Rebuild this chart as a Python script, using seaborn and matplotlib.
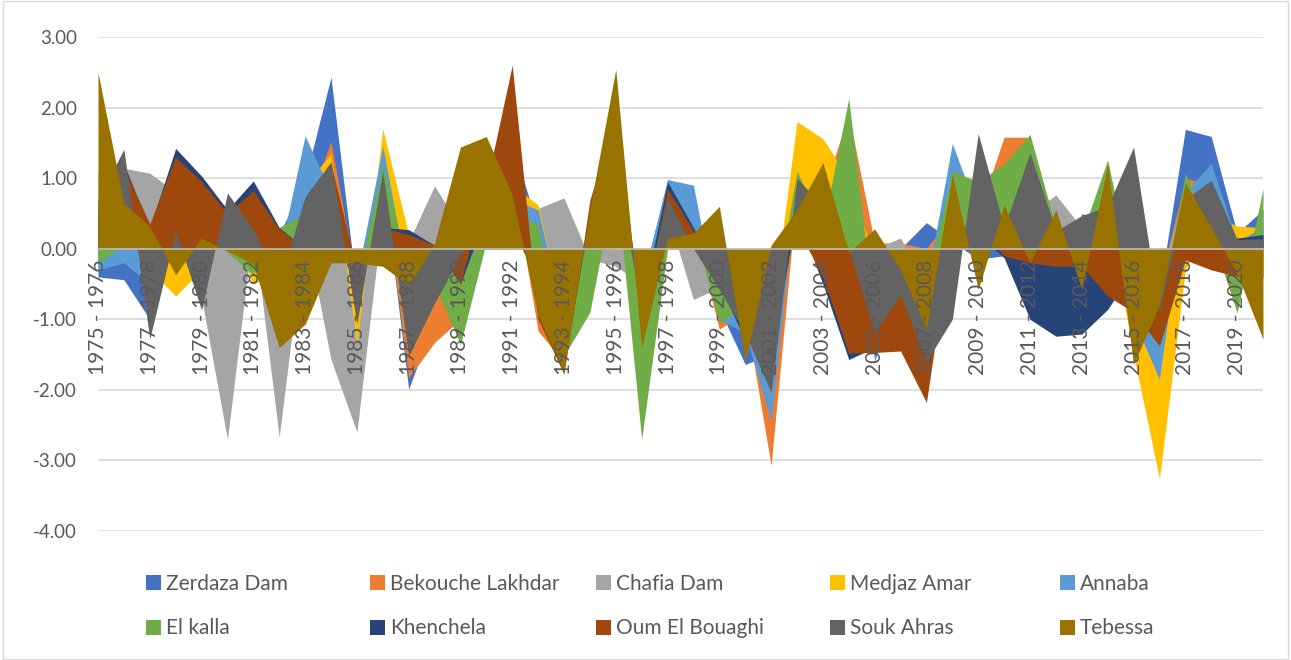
import matplotlib
matplotlib.use("Agg")
import matplotlib.pyplot as plt
from matplotlib.patches import Patch, Rectangle
import seaborn as sns
import numpy as np
import pandas as pd

# seasons on the category axis
seasons = [f"{y} - {y + 1}" for y in range(1975, 2021)]

zerdaza_dam = [-0.40, -0.44, -1.00, 0.80, 0.80, 0.30, 0.50, 0.20, 0.98, 2.43,
               -0.60, 1.00, -1.99, -1.00, -0.50, 0.50, 1.50, 0.30, -1.50, 0.30,
               1.00, -0.50, 0.97, 0.50, -0.85, -1.64, -1.50, 0.50, -0.50, -1.00,
               -0.50, 0.00, 0.37, 0.10, -0.15, -0.10, -0.50, -0.80, 0.50, 0.30,
               -0.50, -0.60, 1.69, 1.59, 0.22, 0.55]
bekouche_lakhdar = [-0.10, 0.50, -0.30, 0.50, 0.50, 0.30, 0.30, 0.20, 0.50, 1.52,
                    -0.50, 1.00, -1.83, -1.33, -1.00, 0.50, 1.00, -1.17, -1.60, 0.30,
                    1.00, -0.50, 0.50, 0.30, -1.14, -0.90, -3.07, 0.80, 0.80, 1.90,
                    0.08, 0.08, 0.00, 0.50, 0.50, 1.58, 1.58, 0.30, 0.30, 0.50,
                    -0.50, -0.50, 1.00, 0.90, 0.15, 0.30]
chafia_dam = [1.10, 1.14, 1.07, 0.80, -0.70, -2.70, 0.30, -2.67, 0.30, -1.57,
              -2.60, 0.50, 0.10, 0.89, 0.30, 0.20, 0.30, 0.57, 0.72, -0.15,
              -0.25, -0.50, 0.50, -0.72, -0.55, -0.50, -1.00, 0.50, 0.50, 0.50,
              0.00, 0.15, -0.50, 0.50, 0.50, 0.50, 0.50, 0.76, 0.30, 0.50,
              -0.50, -0.50, 0.90, 0.90, 0.10, 0.10]
medjaz_amar = [0.30, 0.20, -0.30, -0.67, -0.30, 0.30, -0.50, -0.30, 0.90, 1.35,
               -1.36, 1.70, 0.20, 0.00, -0.50, 0.30, 0.90, 0.62, -1.00, 0.30,
               1.00, -1.00, 0.50, 0.50, -0.80, -0.80, -1.00, 1.80, 1.56, 0.99,
               -0.16, -0.30, -0.50, 0.50, 0.50, 0.50, 0.50, 0.30, -0.30, 0.50,
               -1.50, -3.26, -0.30, 0.50, 0.32, 0.30]
annaba = [-0.30, -0.20, -0.50, 0.30, 0.30, 0.20, -0.20, -0.10, 1.60, 0.80,
          -0.40, 1.45, -0.50, -0.30, -0.50, 0.20, 0.70, 0.55, -1.00, 0.30,
          1.00, -0.50, 0.98, 0.90, -1.00, -1.20, -2.44, 1.00, 0.50, 1.00,
          -1.60, -0.50, -0.50, 1.49, 0.50, 0.50, 0.50, 0.20, 0.20, 0.50,
          -1.00, -1.85, 0.80, 1.21, 0.10, 0.30]
el_kalla = [-0.20, 0.05, 0.30, 0.30, 0.20, -0.05, -0.37, 0.30, 0.50, 0.50,
            -0.50, 1.20, -0.30, -0.50, -1.36, 0.10, 0.50, 0.35, -1.52, -0.90,
            1.00, -2.70, 0.00, 0.30, -1.05, -0.80, -1.00, 1.10, 0.30, 2.13,
            -1.00, -0.50, -0.50, 1.10, 0.95, 1.20, 1.62, 0.30, 0.20, 1.26,
            -0.50, -1.00, 1.07, 0.20, -0.91, 0.85]
khenchela = [0.60, 1.20, 0.30, 1.42, 1.03, 0.55, 0.96, 0.30, 0.00, 1.00,
             -0.50, 0.30, 0.27, 0.05, -0.50, 0.50, 2.00, -1.00, -1.70, 0.50,
             1.50, -0.80, 0.95, 0.30, -0.50, -1.30, -1.50, 0.50, -0.50, -1.57,
             -1.40, -1.30, -1.90, 0.30, 0.20, -0.13, -1.00, -1.24, -1.21, -0.86,
             -0.30, -0.50, 0.50, 0.40, 0.15, 0.20]
oum_el_bouaghi = [0.50, 1.15, 0.35, 1.30, 0.95, 0.50, 0.82, 0.28, 0.00, 1.20,
                  -0.30, 0.30, 0.20, 0.05, -0.50, 0.90, 2.60, -1.00, -1.78, 0.69,
                  1.90, -1.00, 0.85, 0.25, -0.30, -1.00, -0.50, 0.30, -0.40, -1.48,
                  -1.47, -1.45, -2.18, 0.30, 0.30, -0.10, -0.20, -0.25, -0.25, -0.67,
                  -0.90, -1.38, -0.16, -0.30, -0.39, -0.40]
souk_ahras = [0.70, 1.41, -1.28, 0.25, -0.87, 0.79, 0.27, -0.50, 0.74, 1.23,
              -1.07, 1.10, -1.52, -0.77, -0.10, 0.50, 0.30, -0.50, -1.20, 0.30,
              1.00, -0.80, 0.72, 0.00, -0.58, -1.20, -2.04, 1.00, 0.60, 0.00,
              -1.19, -0.65, -1.60, -1.00, 1.63, 0.30, 1.36, 0.25, 0.47, 0.60,
              1.44, -0.90, 0.70, 0.97, 0.13, 0.14]
tebessa = [2.50, 0.64, 0.32, -0.37, 0.15, -0.03, -0.22, -1.40, -1.07, -0.20,
           -0.20, -0.25, -0.52, 0.08, 1.44, 1.59, 0.76, -0.95, -1.75, 0.57,
           2.54, -1.40, 0.15, 0.22, 0.60, -1.61, 0.05, 0.55, 1.22, -0.05,
           0.28, -0.30, -1.14, 1.05, -0.58, 0.62, -0.20, 0.55, -0.58, 1.20,
           -1.64, -0.80, 0.93, 0.30, -0.35, -1.28]

df = pd.DataFrame({
    "Zerdaza Dam": zerdaza_dam,
    "Bekouche Lakhdar": bekouche_lakhdar,
    "Chafia Dam": chafia_dam,
    "Medjaz Amar": medjaz_amar,
    "Annaba": annaba,
    "El kalla": el_kalla,
    "Khenchela": khenchela,
    "Oum El Bouaghi": oum_el_bouaghi,
    "Souk Ahras": souk_ahras,
    "Tebessa": tebessa,
}, index=seasons)

palette = sns.color_palette(["#4472C4", "#ED7D31", "#A5A5A5", "#FFC000", "#5B9BD5",
                             "#70AD47", "#264478", "#9E480E", "#636363", "#997300"])

sns.set_style("white")
plt.rcParams["font.family"] = ["Lato", "DejaVu Sans"]
plt.rcParams["axes.unicode_minus"] = False

fig = plt.figure(figsize=(12.91, 6.60), dpi=100)
ax = fig.add_axes([0.0759, 0.1955, 0.9024, 0.7485])
ax.set_axisbelow(False)

yticks = np.arange(-4, 3.5, 1)
# gridlines drawn by hand so the tick labels can sit above the areas
for v in yticks:
    ax.axhline(v, color="#D9D9D9", linewidth=1.2, zorder=0)

x = np.arange(len(seasons))
for col, c in zip(df.columns, palette):
    ax.fill_between(x, 0, df[col].values, color=c, linewidth=0, label=col, zorder=1)

ax.set_xlim(0, len(seasons) - 1)
ax.set_ylim(-4, 3)
ax.set_yticks(yticks)
ax.set_yticklabels([f"{v:.2f}" for v in yticks])

for s in ["left", "right", "top"]:
    ax.spines[s].set_visible(False)
ax.spines["bottom"].set_position(("data", 0))
ax.spines["bottom"].set_color("#BFBFBF")
ax.spines["bottom"].set_linewidth(1.2)
ax.spines["bottom"].set_zorder(5)

ax.set_xticks(x)
ax.set_xticklabels([s if i % 2 == 0 else "" for i, s in enumerate(seasons)],
                   rotation=90, color="#595959", fontsize=15)
ax.tick_params(axis="x", direction="out", length=6, color="#BFBFBF", width=1.2, pad=2)
ax.tick_params(axis="y", length=0, labelsize=13.5, labelcolor="#595959", pad=15)

# legend: five columns of two rows each
handles = [Patch(facecolor=c, edgecolor="none") for c in palette]
names = list(df.columns)
col_x = [146, 370, 596, 830, 1060]
for k in range(5):
    leg = fig.legend([handles[k], handles[k + 5]], [names[k], names[k + 5]],
                     loc="center left", bbox_to_anchor=(col_x[k] / 1291, 1 - 606 / 660),
                     frameon=False, fontsize=15, handlelength=0.7, handleheight=0.7,
                     handletextpad=0.25, labelspacing=1.2, borderpad=0, borderaxespad=0)
    for t in leg.get_texts():
        t.set_color("#595959")

fig.patches.append(Rectangle((0.002, 0.002), 0.996, 0.996, transform=fig.transFigure,
                             fill=False, edgecolor="#D9D9D9", linewidth=1))

fig.savefig("out.png", dpi=100)
